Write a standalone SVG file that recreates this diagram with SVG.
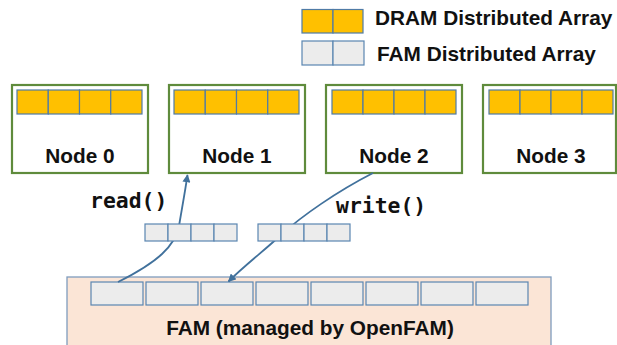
<svg xmlns="http://www.w3.org/2000/svg" width="617" height="345" viewBox="0 0 617 345">
<defs>
<style>
.node{fill:#ffffff;stroke:#5f8b3c;stroke-width:2.2}
.dram{fill:#ffc000;stroke:#4f7ba6;stroke-width:1.2}
.famc{fill:#ececec;stroke:#5a86b1;stroke-width:1.2}
.lbl{font-family:"Liberation Sans",Arial,sans-serif;font-weight:bold;font-size:20.8px;fill:#111}
.code{font-family:"DejaVu Sans Mono","Liberation Mono",monospace;font-weight:bold;font-size:21.4px;fill:#111}
.conn{fill:none;stroke:#41719c;stroke-width:1.8}
</style>
<marker id="arr" viewBox="0 0 10 10" refX="9" refY="5" markerWidth="4.5" markerHeight="4.5" orient="auto" markerUnits="strokeWidth">
<path d="M0,0 L10,5 L0,10 z" fill="#41719c"/>
</marker>
</defs>

<g id="legend">
<rect class="dram" x="302" y="9.5" width="31" height="23.5"/>
<rect class="dram" x="333" y="9.5" width="30" height="23.5"/>
<text class="lbl" x="375" y="25">DRAM Distributed Array</text>
<rect class="famc" x="302" y="41" width="31" height="24"/>
<rect class="famc" x="333" y="41" width="31" height="24"/>
<text class="lbl" x="377" y="61">FAM Distributed Array</text>
</g>

<g id="fam">
<rect x="67" y="277" width="484" height="80" fill="#fbe5d6" stroke="#7f9cbd" stroke-width="1.3"/>
<rect class="famc" x="91" y="282" width="52" height="23"/>
<rect class="famc" x="146" y="282" width="52" height="23"/>
<rect class="famc" x="201" y="282" width="52" height="23"/>
<rect class="famc" x="256" y="282" width="52" height="23"/>
<rect class="famc" x="311" y="282" width="52" height="23"/>
<rect class="famc" x="366" y="282" width="52" height="23"/>
<rect class="famc" x="421" y="282" width="52" height="23"/>
<rect class="famc" x="476" y="282" width="52" height="23"/>
<text class="lbl" x="310" y="335" text-anchor="middle">FAM (managed by OpenFAM)</text>
</g>

<g id="node0">
<rect class="node" x="12" y="85" width="136" height="88"/>
<rect class="dram" x="17" y="90" width="31.25" height="24"/>
<rect class="dram" x="48.25" y="90" width="31.25" height="24"/>
<rect class="dram" x="79.5" y="90" width="31.25" height="24"/>
<rect class="dram" x="110.75" y="90" width="31.25" height="24"/>
<text class="lbl" x="80" y="163" text-anchor="middle">Node 0</text>
</g>

<g id="node1">
<rect class="node" x="169" y="85" width="136" height="88"/>
<rect class="dram" x="174" y="90" width="31.25" height="24"/>
<rect class="dram" x="205.25" y="90" width="31.25" height="24"/>
<rect class="dram" x="236.5" y="90" width="31.25" height="24"/>
<rect class="dram" x="267.75" y="90" width="31.25" height="24"/>
<text class="lbl" x="237" y="163" text-anchor="middle">Node 1</text>
</g>

<g id="node2">
<rect class="node" x="326" y="85" width="136" height="88"/>
<rect class="dram" x="332" y="90" width="31" height="24"/>
<rect class="dram" x="363" y="90" width="31" height="24"/>
<rect class="dram" x="394" y="90" width="31" height="24"/>
<rect class="dram" x="425" y="90" width="31" height="24"/>
<text class="lbl" x="394" y="163" text-anchor="middle">Node 2</text>
</g>

<g id="node3">
<rect class="node" x="483" y="85" width="133" height="88"/>
<rect class="dram" x="489" y="90" width="31" height="24"/>
<rect class="dram" x="520" y="90" width="31" height="24"/>
<rect class="dram" x="551" y="90" width="31" height="24"/>
<rect class="dram" x="582" y="90" width="31" height="24"/>
<text class="lbl" x="551" y="163" text-anchor="middle">Node 3</text>
</g>

<g id="connectors">
<path class="conn" d="M118,282 C158,262 175,246 179,226 C182,208 185,192 187.5,175" marker-end="url(#arr)"/>
<path class="conn" d="M373,173 C336,192 302,216 282,234 C265,250 245,265 228.5,281.5" marker-end="url(#arr)"/>
</g>

<g id="buf-read">
<rect class="famc" x="145" y="224" width="23" height="17"/>
<rect class="famc" x="168" y="224" width="23" height="17"/>
<rect class="famc" x="191" y="224" width="23" height="17"/>
<rect class="famc" x="214" y="224" width="23" height="17"/>
</g>
<g id="buf-write">
<rect class="famc" x="258" y="224" width="23" height="17"/>
<rect class="famc" x="281" y="224" width="23" height="17"/>
<rect class="famc" x="304" y="224" width="23" height="17"/>
<rect class="famc" x="327" y="224" width="23" height="17"/>
</g>

<text class="code" x="90" y="208">read()</text>
<text class="code" x="336" y="213">write()</text>
</svg>
